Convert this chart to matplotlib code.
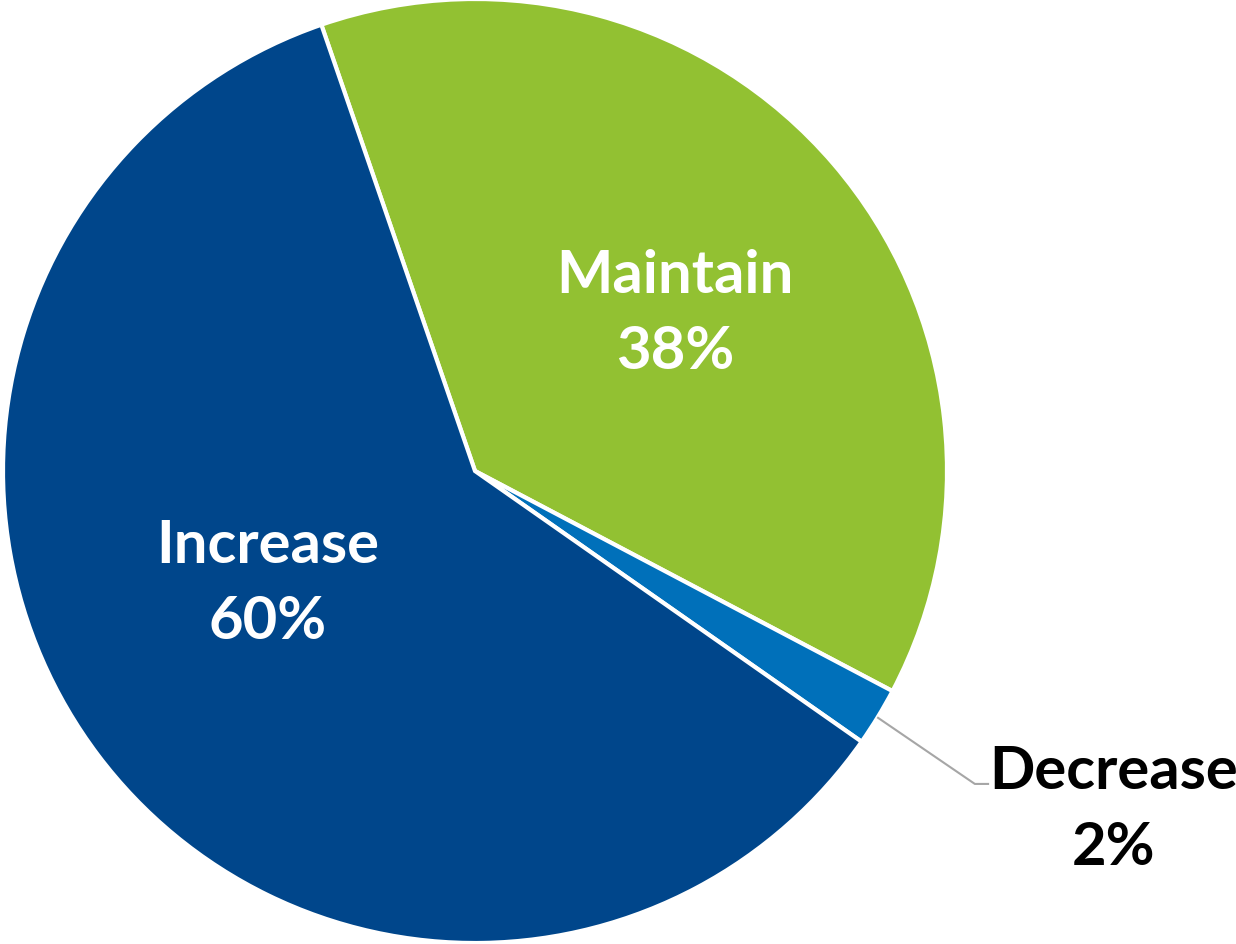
import matplotlib
matplotlib.use("Agg")
import matplotlib.pyplot as plt

# Share of responses by planned change
categories = ["Maintain", "Decrease", "Increase"]
shares = [38, 2, 60]
colors = ["#92C132", "#0070BA", "#00468B"]

plt.rcParams["font.family"] = ["Lato", "DejaVu Sans"]

fig = plt.figure(figsize=(12.36, 9.45), dpi=100)
ax = fig.add_axes([3 / 1236, 1 / 945, 944 / 1236, 944 / 945])

wedges, _ = ax.pie(
    shares,
    colors=colors,
    startangle=109,
    counterclock=False,
    radius=1.0,
    wedgeprops=dict(edgecolor="white", linewidth=3),
)
ax.set_xlim(-1, 1)
ax.set_ylim(-1, 1)
ax.set_aspect("equal")
ax.axis("off")

label_style = dict(ha="center", va="center", fontsize=43, fontweight="bold",
                   linespacing=1.5)

# In-slice labels
ax.text(0.424, 0.335, f"{categories[0]}\n{shares[0]}%", color="white", **label_style)
ax.text(-0.44, -0.237, f"{categories[2]}\n{shares[2]}%", color="white", **label_style)

# Outside label for the small slice, with a leader line
ax.plot([0.854, 1.059, 1.087], [-0.523, -0.663, -0.663], color="#A6A6A6",
        linewidth=1.5, clip_on=False)
ax.text(1.353, -0.717, f"{categories[1]}\n{shares[1]}%", color="black",
        clip_on=False, **label_style)

fig.savefig("out.png", dpi=100)
